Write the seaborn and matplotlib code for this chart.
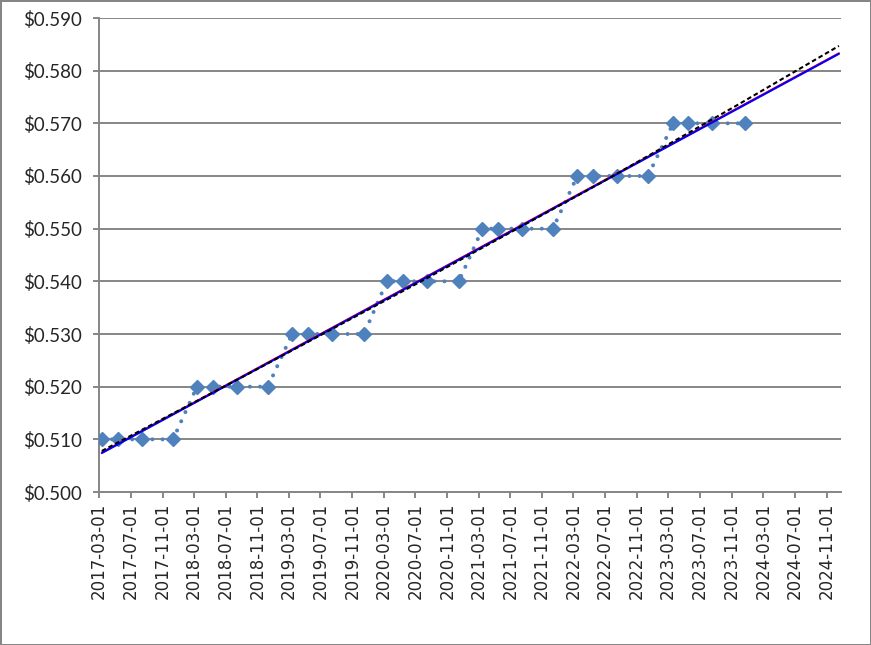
import pandas as pd
import matplotlib
matplotlib.use("Agg")
import matplotlib.pyplot as plt
import matplotlib.dates as mdates
import matplotlib.ticker as mticker
import seaborn as sns

# Datas e valores
datas = ['2017-03-12', '2017-05-13', '2017-08-13', '2017-12-11',
         '2018-03-13', '2018-05-14', '2018-08-14', '2018-12-11',
         '2019-03-14', '2019-05-14', '2019-08-14', '2019-12-16',
         '2020-03-13', '2020-05-14', '2020-08-14', '2020-12-15',
         '2021-03-16', '2021-05-14', '2021-08-15', '2021-12-12',
         '2022-03-16', '2022-05-14', '2022-08-17', '2022-12-13',
         '2023-03-20', '2023-05-18', '2023-08-18', '2023-12-20']
valores = [0.51, 0.51, 0.51, 0.51,
           0.52, 0.52, 0.52, 0.52,
           0.53, 0.53, 0.53, 0.53,
           0.54, 0.54, 0.54, 0.54,
           0.55, 0.55, 0.55, 0.55,
           0.56, 0.56, 0.56, 0.56,
           0.57, 0.57, 0.57, 0.57]

# Tendências lineares (início e fim)
datas_linear = ['2017-03-12', '2024-12-17']
tendencia_vermelha = [0.5075, 0.5833]
tendencia_azul = [0.5074, 0.5832]

# Tendência tracejada (curva levemente convexa)
datas_curva = ['2017-03-12', '2018-10-03', '2020-07-19', '2022-06-11',
               '2023-11-23', '2024-12-17']
tendencia_preta = [0.5078, 0.5226, 0.5399, 0.5586, 0.5735, 0.5847]

ticks_x = pd.date_range('2017-03-01', '2024-11-01', freq='4MS')

df = pd.DataFrame({'Data': pd.to_datetime(datas), 'Valor': valores})
df_lin = pd.DataFrame({'Data': pd.to_datetime(datas_linear),
                       'Vermelha': tendencia_vermelha,
                       'Azul': tendencia_azul})
df_curva = pd.DataFrame({'Data': pd.to_datetime(datas_curva),
                         'Preta': tendencia_preta})

sns.set_style("white")
cinza = '#868686'

fig = plt.figure(figsize=(8.71, 6.45), dpi=100)
ax = fig.add_axes([99/871, 1 - 492/645, (841 - 99)/871, (492 - 18)/645])

# Série com pontos redondos
sns.lineplot(data=df, x='Data', y='Valor', ax=ax, color='#4F81BD', lw=2.9,
             linestyle=(0, (0.01, 2.5)), dash_capstyle='round', zorder=3)
ax.plot(df['Data'], df['Valor'], linestyle='none', marker='D', markersize=7.6,
        color='#4F81BD', zorder=4)

# Tendências
sns.lineplot(data=df_lin, x='Data', y='Vermelha', ax=ax, color='red', lw=1.5, zorder=5)
sns.lineplot(data=df_lin, x='Data', y='Azul', ax=ax, color='blue', lw=1.5, zorder=6)
sns.lineplot(data=df_curva, x='Data', y='Preta', ax=ax, color='black', lw=1.5,
             linestyle=(0, (2.2, 1.4)), zorder=7)

ax.set_xlim(pd.Timestamp('2017-03-01'), pd.Timestamp('2024-12-25'))
ax.set_ylim(0.500, 0.590)
ax.yaxis.set_major_locator(mticker.MultipleLocator(0.01))
ax.yaxis.set_major_formatter(mticker.FuncFormatter(lambda v, p: '$' + f'{v:.3f}'))
ax.set_xticks(ticks_x)
ax.xaxis.set_major_formatter(mdates.DateFormatter('%Y-%m-%d'))

ax.grid(axis='y', color=cinza, lw=1.4)
ax.grid(axis='x', visible=False)
ax.set_axisbelow(True)
for lado in ['top', 'right']:
    ax.spines[lado].set_visible(False)
for lado in ['left', 'bottom']:
    ax.spines[lado].set_color(cinza)
    ax.spines[lado].set_linewidth(1.4)

ax.tick_params(axis='y', which='major', direction='out', length=4.5, width=1.4,
               color=cinza, pad=8, left=True)
ax.tick_params(axis='x', which='major', direction='out', length=4.5, width=1.4,
               color=cinza, pad=3, bottom=True)
for t in ax.get_yticklabels():
    t.set_fontfamily('Lato')
    t.set_fontsize(13.5)
for t in ax.get_xticklabels():
    t.set_fontfamily('DejaVu Sans')
    t.set_fontsize(12)
    t.set_rotation(90)

ax.set_xlabel('')
ax.set_ylabel('')
if ax.get_legend():
    ax.get_legend().remove()

fig.patch.set_edgecolor(cinza)
fig.patch.set_linewidth(2)
fig.savefig('out.png', dpi=100, edgecolor=fig.get_edgecolor())
